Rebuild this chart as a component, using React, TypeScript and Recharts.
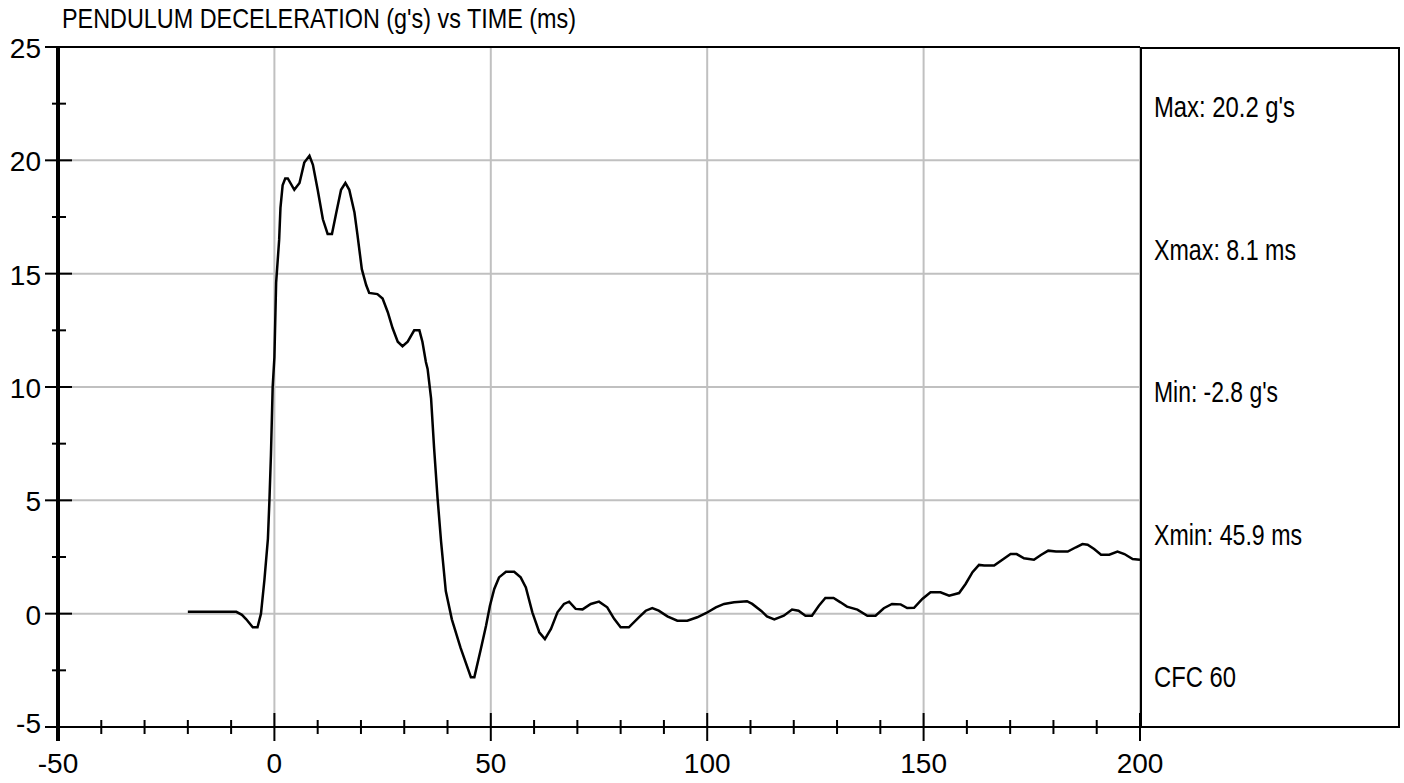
import React from 'react';
import { LineChart, Line, XAxis, YAxis, CartesianGrid, ReferenceLine } from 'recharts';

// pendulum trace
const TIME_MS = [
  -20, -15, -10, -8.8, -7.5, -6.5, -5.0, -3.9, -3.1, -2.3, -1.5, -1.15, -0.8, -0.4,
  0.0, 0.4, 1.1, 1.4, 1.9, 2.5, 3.1, 4.6, 5.8, 6.9, 8.1, 8.9, 10.0, 11.2, 12.3, 13.3,
  14.2, 15.4, 16.4, 17.3, 18.5, 19.2, 20.2, 21.2, 21.9, 23.8, 25.0, 26.2, 27.3, 28.5,
  29.6, 30.8, 32.3, 33.5, 34.2, 35.0, 35.4, 36.2, 36.9, 37.7, 38.5, 39.6, 41.0, 43.0,
  45.4, 46.2, 47.7, 48.9, 49.8, 50.8, 51.9, 53.5, 55.4, 56.9, 58.1, 59.6, 61.2, 62.5,
  63.9, 65.4, 66.9, 68.1, 69.6, 71.2, 73.1, 75.0, 76.9, 78.5, 80.0, 81.9, 84.2, 85.8,
  87.3, 88.8, 90.8, 93.1, 95.4, 97.7, 99.8, 102.0, 103.9, 106.2, 109.2, 110.4, 112.5,
  113.8, 115.5, 117.7, 119.6, 121.1, 122.7, 124.2, 125.8, 127.3, 129.2, 130.8, 132.3,
  134.7, 137.0, 138.9, 140.8, 142.7, 144.7, 146.2, 147.8, 149.7, 151.6, 153.9, 155.9,
  158.2, 159.7, 161.3, 162.8, 164.0, 166.3, 168.2, 170.1, 171.5, 173.2, 175.5, 177.1,
  178.8, 180.6, 183.3, 185.2, 186.7, 187.9, 189.4, 191.0, 192.9, 194.8, 196.4, 198.3, 200,
];
const DECEL_G = [
  0.08, 0.08, 0.08, 0.08, -0.05, -0.25, -0.6, -0.6, 0.0, 1.5, 3.3, 5.0, 7.0, 10.0,
  11.3, 14.6, 16.5, 17.9, 18.9, 19.2, 19.2, 18.7, 19.0, 19.9, 20.2, 19.8, 18.7, 17.4, 16.75, 16.75,
  17.6, 18.7, 19.0, 18.7, 17.7, 16.7, 15.2, 14.5, 14.15, 14.1, 13.9, 13.3, 12.6, 12.0,
  11.8, 12.0, 12.5, 12.5, 12.0, 11.1, 10.8, 9.5, 7.3, 5.1, 3.2, 1.0, -0.25, -1.5,
  -2.8, -2.8, -1.56, -0.53, 0.35, 1.09, 1.6, 1.85, 1.85, 1.6, 1.16, 0.06, -0.82, -1.12,
  -0.67, 0.06, 0.43, 0.53, 0.21, 0.19, 0.43, 0.53, 0.28, -0.23, -0.6, -0.6, -0.16, 0.13,
  0.25, 0.13, -0.12, -0.31, -0.31, -0.16, 0.03, 0.28, 0.43, 0.5, 0.55, 0.43, 0.12,
  -0.12, -0.25, -0.09, 0.18, 0.13, -0.09, -0.09, 0.35, 0.69, 0.69, 0.5, 0.31,
  0.18, -0.09, -0.09, 0.24, 0.43, 0.41, 0.25, 0.26, 0.65, 0.94, 0.94, 0.79,
  0.91, 1.31, 1.83, 2.15, 2.12, 2.12, 2.38, 2.63, 2.63, 2.44, 2.38, 2.59,
  2.78, 2.74, 2.74, 2.93, 3.07, 3.04, 2.85, 2.6, 2.6, 2.74, 2.63, 2.41, 2.38,
];

const X_TICKS = [-50, -40, -30, -20, -10, 0, 10, 20, 30, 40, 50, 60, 70, 80, 90, 100,
  110, 120, 130, 140, 150, 160, 170, 180, 190, 200];
const X_GRID = [0, 50, 100, 150, 200];
const Y_TICKS = [-5, -2.5, 0, 2.5, 5, 7.5, 10, 12.5, 15, 17.5, 20, 22.5, 25];
const Y_GRID = [0, 5, 10, 15, 20];

const TITLE = "PENDULUM DECELERATION (g's) vs TIME (ms)";
const STATS = ["Max: 20.2 g's", 'Xmax: 8.1 ms', "Min: -2.8 g's", 'Xmin: 45.9 ms', 'CFC 60'];

const data = TIME_MS.map((t, i) => ({ t, g: DECEL_G[i] }));

const LABEL_FONT = "'Liberation Sans', Arial, sans-serif";
// no narrow face installed, so the narrow texts get squeezed to the widths seen in the original
const NARROW_FONT = "'Liberation Sans Narrow', 'Arial Narrow', 'Liberation Sans', sans-serif";
const TITLE_W = 514;
const STAT_W = [141, 142, 124, 148, 82];

const YTick = (props: any) => {
  const { x, y, payload } = props;
  const v = payload.value;
  const major = v % 5 === 0;
  return (
    <g>
      <line x1={major ? x - 13 : x - 6} x2={major ? x + 14 : x + 8} y1={y} y2={y} stroke="#000" strokeWidth={2} />
      {major && (
        <text x={x - 17} y={y + (v === -5 ? 6 : 11)} textAnchor="end" fontSize={28} fontFamily={LABEL_FONT} fill="#000">
          {v}
        </text>
      )}
    </g>
  );
};

const XTick = (props: any) => {
  const { x, y, payload } = props;
  const v = payload.value;
  const major = v % 50 === 0;
  return (
    <g>
      {v === -50 ? (
        <line x1={x} x2={x} y1={y} y2={y + 14} stroke="#000" strokeWidth={4} />
      ) : (
        <line x1={x} x2={x} y1={major ? y - 14 : y - 7} y2={major ? y + 14 : y + 7} stroke="#000" strokeWidth={2} />
      )}
      {major && (
        <text x={x} y={y + 46} textAnchor="middle" fontSize={28} fontFamily={LABEL_FONT} fill="#000">
          {v}
        </text>
      )}
    </g>
  );
};

export default function App() {
  return (
    <div style={{ position: 'absolute', left: 0, top: 0, width: 1404, height: 783, background: '#fff' }}>
      <LineChart width={1404} height={783} data={data} margin={{ top: 47, right: 264, left: 0, bottom: 0 }}>
        <CartesianGrid
          stroke="#c0c0c0"
          strokeWidth={2}
          horizontalValues={Y_GRID}
          verticalValues={X_GRID}
        />
        <XAxis
          dataKey="t"
          type="number"
          domain={[-50, 200]}
          ticks={X_TICKS}
          interval={0}
          height={56}
          tickSize={0}
          tickMargin={0}
          tick={<XTick />}
          axisLine={{ stroke: '#000', strokeWidth: 2 }}
          allowDataOverflow
        />
        <YAxis
          type="number"
          domain={[-5, 25]}
          ticks={Y_TICKS}
          interval={0}
          width={58}
          tickSize={0}
          tickMargin={0}
          tick={<YTick />}
          axisLine={{ stroke: '#000', strokeWidth: 4 }}
          allowDataOverflow
        />
        <ReferenceLine y={25} stroke="#000" strokeWidth={2} />
        <Line
          type="linear"
          dataKey="g"
          stroke="#000"
          strokeWidth={2.5}
          dot={false}
          isAnimationActive={false}
        />
      </LineChart>
      <svg width={1404} height={783} style={{ position: 'absolute', left: 0, top: 0, pointerEvents: 'none' }}>
        <text x={62} y={28} fontSize={28} fontFamily={NARROW_FONT} fill="#000" textLength={TITLE_W} lengthAdjust="spacingAndGlyphs">
          {TITLE}
        </text>
        <rect x={1141} y={48} width={258} height={679} fill="none" stroke="#000" strokeWidth={2} />
        {STATS.map((s, i) => (
          <text
            key={s}
            x={1154}
            y={117 + i * 142.5}
            fontSize={30}
            fontFamily={NARROW_FONT}
            fill="#000"
            textLength={STAT_W[i]}
            lengthAdjust="spacingAndGlyphs"
          >
            {s}
          </text>
        ))}
      </svg>
    </div>
  );
}
